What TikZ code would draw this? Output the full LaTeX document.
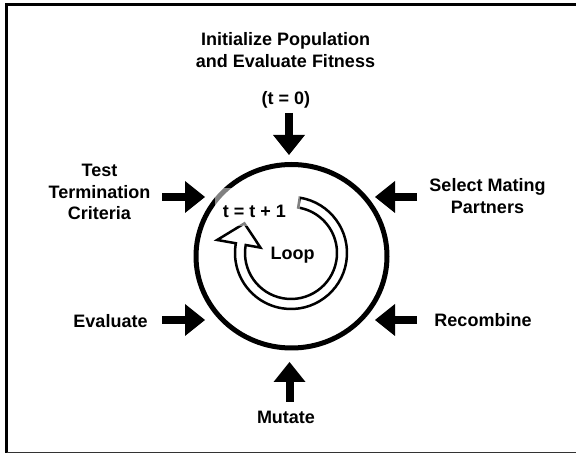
\documentclass[tikz,border=0pt]{standalone}
\usepackage{fontspec}
\setmainfont{Liberation Sans}
\usetikzlibrary{arrows.meta,shapes.geometric}
\begin{document}
\begin{tikzpicture}[x=1pt,y=1pt,
  lbl/.style={font=\fontsize{18}{21.5}\selectfont\bfseries, align=center, inner sep=0pt},
  bigarrow/.style={line width=8pt, -{Triangle[width=32pt,length=20pt,line width=0pt]}},
  ringarrow/.style={draw=black, fill=white, line width=2.5pt, line join=miter}
  ]
\useasboundingbox (0,0) rectangle (576,455);
\fill[white] (0,0) rectangle (576,455);
% frame (cropped on the right)
\draw[line width=3.5pt, line join=miter] (6.5,2) -- (6.5,450.5) -- (580,450.5);
\draw[line width=1pt, black!80] (6.5,2) -- (576,2);

% main cycle
\node (cyc) [ellipse, draw, line width=5pt, minimum width=191pt, minimum height=183.5pt, inner sep=0pt] at (291.5,198.75) {};

% loop arrow
\begin{scope}[shift={(291,202)}]
  \coordinate (ringc) at (0,0);
  \draw[ringarrow] (81:56) arc[start angle=81, end angle=-190, radius=56]
    -- (-190:75) -- (-46.6,29.6) -- (-190:31) -- (-190:46)
    arc[start angle=-190, end angle=81, radius=46] -- cycle;
\end{scope}

% translucent box behind counter text
\fill[white, opacity=0.5] (215,267) rectangle (300,229);

% labels
\node[lbl] (init) at (285.5,405) {Initialize Population\\and Evaluate Fitness};
\node[lbl] (t0) at (286,355) {(t = 0)};
\node[lbl] (term) at (99.5,263) {Test\\Termination\\Criteria};
\node[lbl] (eval) at (110.5,134) {Evaluate};
\node[lbl] (sel) at (487.5,259) {Select Mating\\Partners};
\node[lbl] (rec) at (483,135) {Recombine};
\node[lbl] (mut) at (286,38) {Mutate};
\node[lbl] (inc) at (254.5,244) {t = t + 1};
\node[lbl] (loop) at (292.5,200) {Loop};

% arrow end points
\coordinate (topT) at (289,342);   \coordinate (topH) at (289,300);
\coordinate (termT) at (162,258);  \coordinate (termH) at (205,258);
\coordinate (evalT) at (162,135);  \coordinate (evalH) at (205,135);
\coordinate (selT) at (417,258);   \coordinate (selH) at (375,258);
\coordinate (recT) at (417,135);   \coordinate (recH) at (375,135);
\coordinate (mutT) at (289.5,53);  \coordinate (mutH) at (289.5,93);

\draw[bigarrow] (topT) -- (topH);
\draw[bigarrow] (termT) -- (termH);
\draw[bigarrow] (evalT) -- (evalH);
\draw[bigarrow] (selT) -- (selH);
\draw[bigarrow] (recT) -- (recH);
\draw[bigarrow] (mutT) -- (mutH);
\end{tikzpicture}
\end{document}
